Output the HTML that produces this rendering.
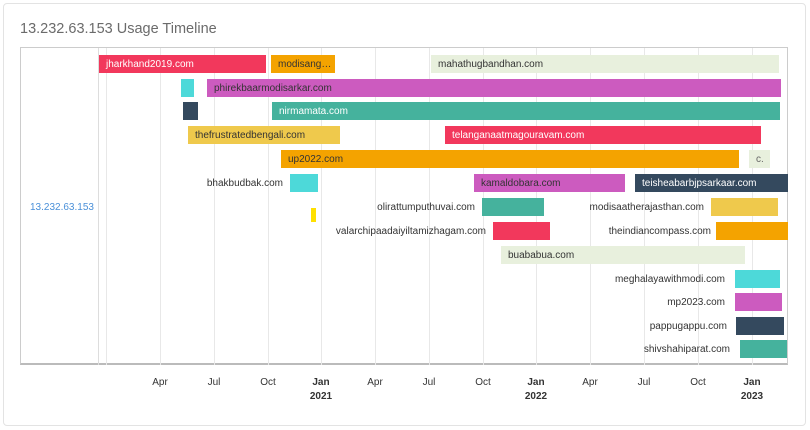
<!DOCTYPE html>
<html><head><style>
body{margin:0;width:810px;height:430px;background:#fff;font-family:"Liberation Sans",sans-serif;position:relative;overflow:hidden}
.card{position:absolute;left:3px;top:3px;width:801px;height:421px;border:1px solid #e3e3e3;border-radius:4px}
.t{position:absolute;left:20px;top:21px;font-size:14.5px;color:#6b6b6b}
.b{position:absolute;height:18px;font-size:10px;line-height:20px;padding-left:7px;box-sizing:border-box;white-space:nowrap;overflow:hidden;color:#333}
.w{color:#fff}
.l{position:absolute;font-size:10px;color:#333;text-align:right;white-space:nowrap}
.g{position:absolute;top:48px;height:317px;width:1px;background:#e8e8e8}
.x{position:absolute;top:376px;font-size:10px;color:#333;text-align:center;width:40px;margin-left:-20px;line-height:14px}
</style></head><body>
<div class="card"></div>
<div class="t">13.232.63.153 Usage Timeline</div>
<div style="position:absolute;left:20px;top:47px;width:768px;height:318px;border:1px solid #ccc;border-bottom:2px solid #bbb;box-sizing:border-box"></div>
<div class="g" style="left:98px;background:#ddd"></div>
<div class="g" style="left:106px"></div>
<div class="g" style="left:160px"></div><div class="g" style="left:214px"></div><div class="g" style="left:268px"></div><div class="g" style="left:321px"></div><div class="g" style="left:375px"></div><div class="g" style="left:429px"></div><div class="g" style="left:483px"></div><div class="g" style="left:536px"></div><div class="g" style="left:590px"></div><div class="g" style="left:644px"></div><div class="g" style="left:698px"></div><div class="g" style="left:752px"></div>
<div class="l" style="left:30px;top:202px;color:#4a90d9">13.232.63.153</div>

<div class="b w" style="left:99px;top:55px;width:167px;background:#f2385c">jharkhand2019.com</div>
<div class="b" style="left:271px;top:55px;width:64px;background:#f4a300">modisang…</div>
<div class="b" style="left:431px;top:55px;width:348px;background:#e8f0dd">mahathugbandhan.com</div>

<div class="b" style="left:181px;top:79px;width:13px;background:#4dd9d9"></div>
<div class="b" style="left:207px;top:79px;width:574px;background:#cc5bbf">phirekbaarmodisarkar.com</div>

<div class="b" style="left:183px;top:102px;width:15px;background:#34495e"></div>
<div class="b w" style="left:272px;top:102px;width:508px;background:#45b29d">nirmamata.com</div>

<div class="b" style="left:188px;top:126px;width:152px;background:#efc94c">thefrustratedbengali.com</div>
<div class="b w" style="left:445px;top:126px;width:316px;background:#f2385c">telanganaatmagouravam.com</div>

<div class="b" style="left:281px;top:150px;width:458px;background:#f4a300">up2022.com</div>
<div class="b" style="left:749px;top:150px;width:21px;background:#e8f0dd;color:#666">c.</div>

<div class="l" style="right:527px;top:178px">bhakbudbak.com</div>
<div class="b" style="left:290px;top:174px;width:28px;background:#4dd9d9"></div>
<div class="b" style="left:474px;top:174px;width:151px;background:#cc5bbf">kamaldobara.com</div>
<div class="b w" style="left:635px;top:174px;width:153px;background:#34495e">teisheabarbjpsarkaar.com</div>

<div class="b" style="left:311px;top:208px;width:5px;height:14px;padding:0;background:#ffe000"></div>
<div class="l" style="right:335px;top:202px">olirattumputhuvai.com</div>
<div class="b" style="left:482px;top:198px;width:62px;background:#45b29d"></div>
<div class="l" style="right:106px;top:202px">modisaatherajasthan.com</div>
<div class="b" style="left:711px;top:198px;width:67px;background:#efc94c"></div>

<div class="l" style="right:324px;top:226px">valarchipaadaiyiltamizhagam.com</div>
<div class="b" style="left:493px;top:222px;width:57px;background:#f2385c"></div>
<div class="l" style="right:99px;top:226px">theindiancompass.com</div>
<div class="b" style="left:716px;top:222px;width:72px;background:#f4a300"></div>

<div class="b" style="left:501px;top:246px;width:244px;background:#e8f0dd">buababua.com</div>

<div class="l" style="right:85px;top:274px">meghalayawithmodi.com</div>
<div class="b" style="left:735px;top:270px;width:45px;background:#4dd9d9"></div>
<div class="l" style="right:85px;top:297px">mp2023.com</div>
<div class="b" style="left:735px;top:293px;width:47px;background:#cc5bbf"></div>
<div class="l" style="right:83px;top:321px">pappugappu.com</div>
<div class="b" style="left:736px;top:317px;width:48px;background:#34495e"></div>
<div class="l" style="right:80px;top:344px">shivshahiparat.com</div>
<div class="b" style="left:740px;top:340px;width:47px;background:#45b29d"></div>

<div class="x" style="left:160px">Apr</div><div class="x" style="left:214px">Jul</div><div class="x" style="left:268px">Oct</div>
<div class="x" style="left:321px;font-weight:bold">Jan<br>2021</div>
<div class="x" style="left:375px">Apr</div><div class="x" style="left:429px">Jul</div><div class="x" style="left:483px">Oct</div>
<div class="x" style="left:536px;font-weight:bold">Jan<br>2022</div>
<div class="x" style="left:590px">Apr</div><div class="x" style="left:644px">Jul</div><div class="x" style="left:698px">Oct</div>
<div class="x" style="left:752px;font-weight:bold">Jan<br>2023</div>
</body></html>
